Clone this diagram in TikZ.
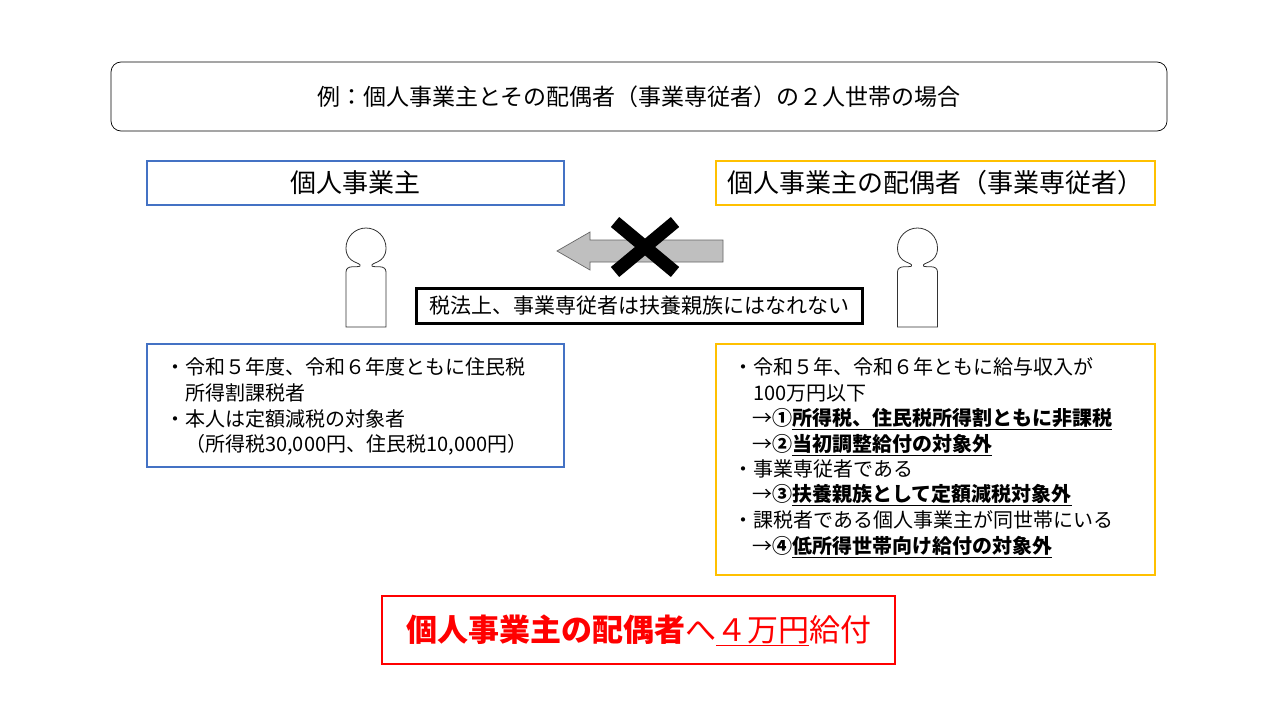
\documentclass[tikz,border=0pt]{standalone}
\usepackage{fontspec}
\setmainfont{Noto Sans CJK JP}
\usetikzlibrary{arrows.meta,calc}
\definecolor{bl}{HTML}{4472C4}
\definecolor{gd}{HTML}{FFC000}
\definecolor{rd}{HTML}{FF0000}
\tikzset{
 ln/.style={anchor=west,inner sep=0,font=\fontsize{20}{22}\selectfont},
 person/.style={draw=black!80,fill=white,line width=0.8pt}
}
\begin{document}
\begin{tikzpicture}[x=1pt,y=-1pt]
\useasboundingbox (0,0) rectangle (1280,720);
\node[draw,rounded corners=10pt,minimum width=1056,minimum height=69,line width=0.7pt,font=\fontsize{23}{25}\selectfont] (title) at (639,96.5) {例：個人事業主とその配偶者（事業専従者）の２人世帯の場合};
\node[draw=bl,minimum width=417,minimum height=44,line width=1.4pt,font=\fontsize{26}{28}\selectfont] (h1) at (355.5,183) {個人事業主};
\node[draw=gd,minimum width=439,minimum height=44,line width=1.4pt,font=\fontsize{26}{28}\selectfont] (h2) at (935.5,183) {個人事業主の配偶者（事業専従者）};
% persons
\foreach \cx/\nm in {366/p1,917.5/p2}{
 \draw[person] (\cx-6,266) .. controls (\cx-4,262) and (\cx-20,264) .. (\cx-20,248)
   arc[start angle=180,end angle=360,radius=20]
   .. controls (\cx+20,264) and (\cx+4,262) .. (\cx+6,266)
   .. controls (\cx+8,268) and (\cx+20,264) .. (\cx+20,272) -- (\cx+20,327) -- (\cx-20,327) -- (\cx-20,272)
   .. controls (\cx-20,264) and (\cx-8,268) .. (\cx-6,266) -- cycle;
 \coordinate (\nm) at (\cx,280);
}
% arrow
\draw[fill=black!25,draw=black!60,line width=0.7pt] (723,240) -- (590,240) -- (590,232) -- (557,251) -- (590,270) -- (590,262) -- (723,262) -- cycle;
\coordinate (xc) at (645,247);
\draw[line width=13pt] ($(xc)+(-30,-25)$) -- ($(xc)+(30,25)$) ($(xc)+(30,-25)$) -- ($(xc)+(-30,25)$);
\node[draw,line width=3pt,minimum width=446,minimum height=35,font=\fontsize{21}{23}\selectfont] (note) at (639,305.5) {税法上、事業専従者は扶養親族にはなれない};
% left box
\node[draw=bl,line width=1.4pt,minimum width=417,minimum height=123] (b1) at (355.5,405.5) {};
\node[ln] at (165,367) {・令和５年度、令和６年度ともに住民税};
\node[ln] at (165,393) {\hspace{20pt}所得割課税者};
\node[ln] at (165,419) {・本人は定額減税の対象者};
\node[ln] at (165,445) {\hspace{20pt}（所得税30,000円、住民税10,000円）};
% right box
\node[draw=gd,line width=1.4pt,minimum width=439,minimum height=231] (b2) at (935.5,459.5) {};
\node[ln] at (733,367) {・令和５年、令和６年ともに給与収入が};
\node[ln] at (733,393) {\hspace{20pt}100万円以下};
\node[ln] at (752,419) {→\textbf{①\underline{所得税、住民税所得割ともに非課税}}};
\node[ln] at (752,445) {→\textbf{②\underline{当初調整給付の対象外}}};
\node[ln] at (733,469) {・事業専従者である};
\node[ln] at (752,495) {→\textbf{③\underline{扶養親族として定額減税対象外}}};
\node[ln] at (733,520) {・課税者である個人事業主が同世帯にいる};
\node[ln] at (752,547) {→\textbf{④\underline{低所得世帯向け給付の対象外}}};
% bottom
\node[draw=rd,line width=2pt,minimum width=513,minimum height=68,text=rd,font=\fontsize{31}{34}\selectfont] (res) at (638.5,630) {\textbf{個人事業主の配偶者}へ\underline{４万円}給付};
\end{tikzpicture}
\end{document}
